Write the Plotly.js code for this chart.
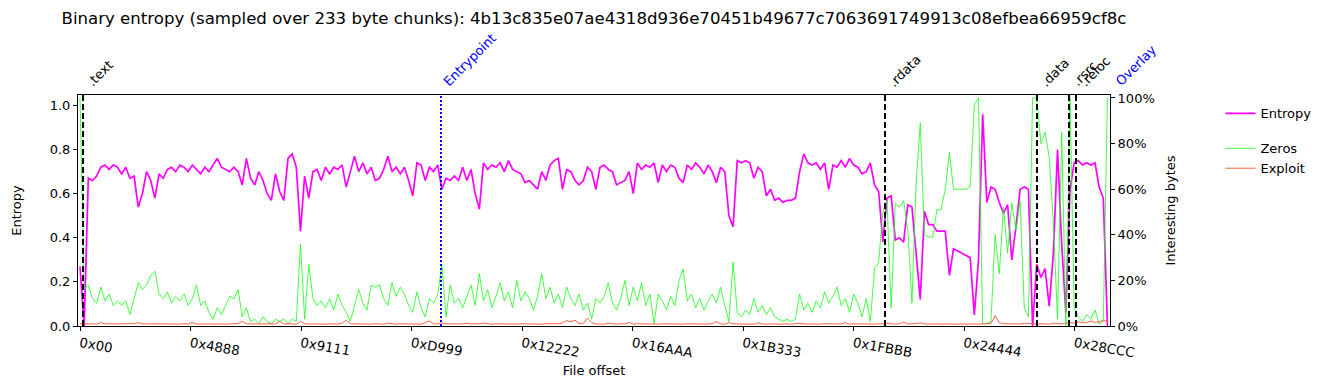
<!DOCTYPE html>
<html>
<head>
<meta charset="utf-8">
<script src="https://cdn.plot.ly/plotly-3.0.1.min.js"></script>
<style>html,body{margin:0;padding:0;background:#fff;}#chart{width:1335px;height:390px;}</style>
</head>
<body>
<div id="chart"></div>
<script>
// ---- data ----
var chunkSize = 233;          // bytes per sampled chunk
var chunksPerPoint = 3;       // each point below summarises 3 consecutive chunks
var fileHash = "4b13c835e07ae4318d936e70451b49677c7063691749913c08efbea66959cf8c";

var tickLabels = ["0x00","0x4888","0x9111","0xD999","0x12222","0x16AAA","0x1B333","0x1FBBB","0x24444","0x28CCC"];
var pctTicks = [0, 20, 40, 60, 80, 100];

var sectionNames   = [".text", ".rdata", ".data", ".rsrc", ".reloc"];
var sectionOffsets = [0x200, 135270, 160810, 166190, 167370];

var entryName = "Entrypoint";
var entryOffset = 60660;
var overlayName = "Overlay";
var overlayOffset = 172900;

var entropy = [
0.27,0.0,0.67,0.66,0.68,0.72,0.73,0.71,0.73,0.72,
0.69,0.72,0.67,0.68,0.54,0.60,0.70,0.66,0.58,0.69,
0.67,0.71,0.72,0.70,0.73,0.72,0.70,0.73,0.71,0.69,
0.72,0.70,0.73,0.76,0.72,0.71,0.70,0.72,0.70,0.64,
0.76,0.67,0.64,0.70,0.66,0.60,0.57,0.69,0.61,0.57,
0.76,0.78,0.72,0.43,0.68,0.58,0.70,0.71,0.66,0.72,
0.69,0.72,0.71,0.73,0.63,0.70,0.77,0.70,0.74,0.69,
0.72,0.66,0.67,0.71,0.77,0.70,0.72,0.69,0.72,0.66,
0.59,0.74,0.73,0.66,0.72,0.70,0.73,0.62,0.67,0.66,
0.68,0.66,0.72,0.66,0.71,0.60,0.53,0.74,0.71,0.73,
0.72,0.74,0.70,0.75,0.71,0.70,0.69,0.65,0.66,0.64,
0.62,0.70,0.66,0.73,0.75,0.76,0.62,0.71,0.70,0.66,
0.64,0.66,0.72,0.70,0.62,0.72,0.73,0.71,0.70,0.64,
0.65,0.66,0.70,0.60,0.74,0.71,0.73,0.72,0.74,0.65,
0.73,0.70,0.73,0.72,0.67,0.65,0.73,0.71,0.74,0.72,
0.69,0.73,0.70,0.65,0.72,0.70,0.50,0.45,0.75,0.74,
0.75,0.74,0.67,0.72,0.70,0.59,0.62,0.57,0.58,0.56,
0.57,0.57,0.58,0.70,0.78,0.74,0.73,0.74,0.71,0.74,
0.62,0.73,0.72,0.75,0.72,0.76,0.73,0.72,0.69,0.70,
0.74,0.64,0.61,0.38,0.58,0.59,0.39,0.40,0.38,0.55,
0.54,0.33,0.12,0.52,0.46,0.46,0.43,0.43,0.43,0.23,
0.35,0.34,0.33,0.32,0.31,0.05,0.30,0.96,0.56,0.63,
0.62,0.56,0.51,0.55,0.30,0.45,0.62,0.63,0.62,0.0,
0.28,0.22,0.26,0.09,0.33,0.80,0.37,0.06,0.62,0.74,
0.75,0.73,0.74,0.73,0.74,0.63,0.58,0.0
];

var zeros = [
100,16,18,12,10,17,11,14,9,11,
9,11,5,12,19,16,18,22,24,14,
12,15,10,13,11,14,9,12,18,9,
11,6,3,8,5,9,13,12,16,4,
8,2,3,1,4,2,1,3,2,3,
1,3,2,36,3,27,12,9,11,8,
12,7,14,9,6,2,9,16,10,7,
18,17,18,12,9,19,13,17,14,9,
6,15,8,4,12,10,14,27,4,18,
10,12,8,13,18,9,23,11,16,8,
13,19,11,15,8,20,11,15,12,7,
13,23,12,17,10,14,8,17,12,9,
14,7,10,3,12,10,13,19,10,7,
12,20,9,17,11,19,9,14,1,14,
11,7,13,9,20,25,11,14,8,12,
7,11,14,10,17,9,2,28,6,4,
7,5,12,6,9,5,8,4,3,2,
3,2,3,14,7,10,6,11,8,15,
10,13,17,9,12,6,14,10,4,12,
2,25,28,50,55,8,54,52,55,42,
10,63,89,40,39,39,51,51,60,76,
60,60,60,60,61,97,100,1,1,2,
40,23,52,32,54,42,55,8,4,100,
100,80,85,74,45,3,85,0,100,8,
4,2,5,3,7,1,2,100
];

var exploit = [
1.0,0.8,0.9,1.0,0.8,1.5,0.9,1.0,0.8,0.9,
1.0,0.9,0.8,1.0,1.5,0.9,1.0,0.8,0.9,1.0,
0.9,0.8,1.0,0.9,0.8,1.0,0.9,1.6,0.9,0.8,
1.0,0.9,0.8,1.0,0.9,0.8,1.0,0.9,1.1,2.0,
1.0,0.9,0.8,1.0,0.9,1.0,0.8,0.9,2.0,0.9,
1.0,0.9,0.8,2.0,1.0,0.9,0.8,1.0,0.9,0.8,
1.0,0.9,0.8,1.2,2.6,1.0,0.9,0.8,1.0,0.9,
0.8,1.0,0.9,0.8,1.3,0.9,0.8,1.0,0.9,0.8,
1.0,0.9,0.8,1.5,2.2,1.0,0.9,1.4,0.9,1.0,
0.8,0.9,1.0,1.2,0.9,0.8,1.0,1.3,0.9,0.8,
1.0,0.9,0.8,1.0,0.9,0.8,1.0,0.9,0.8,1.0,
0.9,0.8,1.0,0.9,0.8,1.0,1.3,2.4,1.8,2.6,
1.0,1.2,3.5,1.5,0.9,1.0,0.8,1.3,0.9,0.8,
1.0,0.9,1.6,0.8,1.0,0.9,0.8,1.0,0.9,0.8,
1.0,0.9,0.8,1.0,0.9,0.8,1.0,0.9,0.8,1.0,
0.9,0.8,1.0,1.9,0.9,0.8,1.5,1.0,0.9,0.8,
1.0,0.9,0.8,1.4,0.9,0.8,1.0,0.9,0.8,1.0,
0.9,0.8,1.0,1.2,0.9,0.8,1.0,0.9,0.8,1.0,
0.9,0.8,1.0,0.9,1.5,0.8,1.0,0.9,0.8,1.0,
0.9,0.8,1.0,0.9,1.3,0.9,0.8,1.0,1.6,0.9,
0.8,1.0,1.4,0.9,0.8,1.0,0.9,0.8,1.0,0.9,
0.8,1.0,0.9,0.8,1.0,0.9,0.8,1.0,0.9,1.2,
4.5,1.5,1.0,0.9,0.8,1.0,0.9,1.2,1.0,0.9,
0.8,1.0,0.9,0.8,1.2,1.0,0.9,1.3,1.5,1.2,
1.8,1.4,1.5,2.2,1.6,1.8,2.5,2.0
];

// ---- build chart ----
var offsets = entropy.map(function(_, i){ return i * chunkSize * chunksPerPoint; });
var tickVals = tickLabels.map(function(t){ return parseInt(t, 16); });
var pctText = pctTicks.map(function(v){ return v + "%"; });

var FONT = "DejaVu Sans, Liberation Sans, sans-serif";

var traces = [
  {x: offsets, y: entropy, name: "Entropy", type: "scatter", mode: "lines",
   line: {color: "#ff00ff", width: 1.7}, yaxis: "y", legendgroup: "a"},
  {x: offsets, y: zeros, name: "Zeros", type: "scatter", mode: "lines",
   line: {color: "rgba(20,255,20,0.8)", width: 1}, yaxis: "y2", legendgroup: "b"},
  {x: offsets, y: exploit, name: "Exploit", type: "scatter", mode: "lines",
   line: {color: "rgba(255,80,45,0.9)", width: 1}, yaxis: "y2", legendgroup: "b"}
];

var shapes = [];
var annotations = [];
sectionOffsets.forEach(function(off, k){
  shapes.push({type: "line", xref: "x", yref: "paper", x0: off, x1: off, y0: 0, y1: 1,
               line: {color: "black", width: 2, dash: "6px,3px"}});
  annotations.push({x: off, y: 1, xref: "x", yref: "paper", text: sectionNames[k],
                    showarrow: false, textangle: -45, xanchor: "left", yanchor: "bottom",
                    xshift: -2, yshift: 3, font: {family: FONT, size: 13, color: "black"}});
});
shapes.push({type: "line", xref: "x", yref: "paper", x0: entryOffset, x1: entryOffset, y0: 0, y1: 1,
             line: {color: "blue", width: 2, dash: "2px,2px"}});
annotations.push({x: entryOffset, y: 1, xref: "x", yref: "paper", text: entryName,
                  showarrow: false, textangle: -45, xanchor: "left", yanchor: "bottom",
                  xshift: -3, yshift: 3, font: {family: FONT, size: 13, color: "blue"}});
annotations.push({x: overlayOffset, y: 1, xref: "x", yref: "paper", text: overlayName,
                  showarrow: false, textangle: -45, xanchor: "left", yanchor: "bottom",
                  xshift: 1, yshift: 3, font: {family: FONT, size: 13, color: "blue"}});

var layout = {
  width: 1335, height: 390,
  margin: {l: 78, r: 225, t: 95, b: 64, pad: 0},
  paper_bgcolor: "white", plot_bgcolor: "white",
  font: {family: FONT, size: 13, color: "black"},
  title: {text: "Binary entropy (sampled over " + chunkSize + " byte chunks): " + fileHash,
          xref: "paper", x: 0.5, xanchor: "center", yref: "container", y: 0.953, yanchor: "middle",
          font: {family: FONT, size: 16.6, color: "black"}},
  showlegend: true,
  legend: {x: 1.107, y: 0.985, xanchor: "left", yanchor: "top", traceorder: "grouped",
           tracegroupgap: 15, bgcolor: "rgba(0,0,0,0)", font: {family: FONT, size: 13}},
  xaxis: {range: [-336, 173080], tickvals: tickVals, ticktext: tickLabels, tickangle: 10,
          showgrid: false, zeroline: false, showline: true, mirror: true, linecolor: "black", linewidth: 1,
          ticks: "outside", ticklen: 4, tickcolor: "black", tickfont: {size: 13.3},
          title: {text: "File offset", standoff: 6, font: {family: FONT, size: 13}}},
  yaxis: {range: [0, 1.0476], tickvals: [0, 0.2, 0.4, 0.6, 0.8, 1.0], tickformat: ".1f",
          showgrid: false, zeroline: false, showline: true, linecolor: "black", linewidth: 1,
          ticks: "outside", ticklen: 4, tickcolor: "black",
          title: {text: "Entropy", standoff: 25, font: {family: FONT, size: 13}}},
  yaxis2: {range: [0, 101.3], overlaying: "y", side: "right", tickvals: pctTicks, ticktext: pctText,
           showgrid: false, zeroline: false, showline: true, linecolor: "black", linewidth: 1,
           ticks: "outside", ticklen: 4, tickcolor: "black",
           title: {text: "Interesting bytes", standoff: 12, font: {family: FONT, size: 13}}},
  shapes: shapes,
  annotations: annotations
};

Plotly.newPlot("chart", traces, layout, {displayModeBar: false, staticPlot: true});
</script>
</body>
</html>
